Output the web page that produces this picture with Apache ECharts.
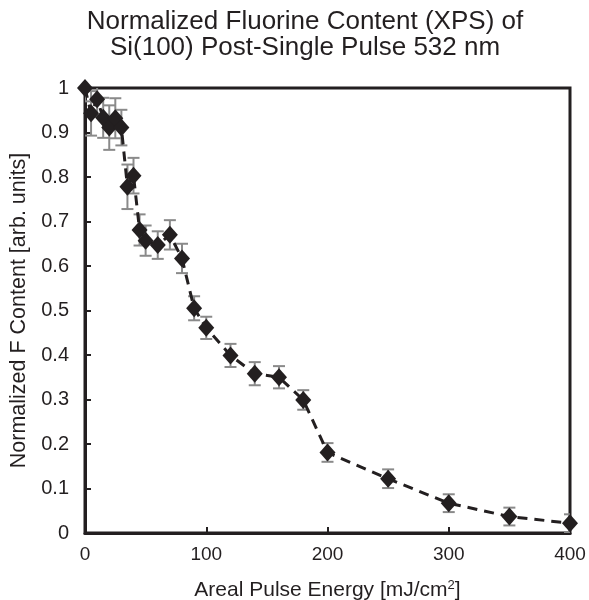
<!DOCTYPE html>
<html>
<head>
<meta charset="utf-8">
<script src="https://cdn.jsdelivr.net/npm/echarts@6/dist/echarts.min.js"></script>
<style>html,body{margin:0;padding:0;background:#fff}#c{width:589px;height:600px}</style>
</head>
<body>
<div id="c"></div>
<script>
var energy = [0,5,10,15,20,25,30,35,40,45,50,60,70,80,90,100,120,140,160,180,200,250,300,350,400];
var fContent = [1.0,0.943,0.975,0.933,0.911,0.932,0.911,0.778,0.803,0.681,0.657,0.647,0.670,0.617,0.505,0.461,0.399,0.358,0.350,0.299,0.181,0.122,0.067,0.037,0.022];
var fError = [0.03,0.05,0.04,0.045,0.05,0.045,0.04,0.05,0.04,0.035,0.034,0.031,0.033,0.033,0.027,0.025,0.026,0.026,0.025,0.022,0.021,0.021,0.02,0.02,0.02];
var xTicks = [0,100,200,300,400];
var yTicks = [0,0.1,0.2,0.3,0.4,0.5,0.6,0.7,0.8,0.9,1];

var pts = energy.map(function(x,i){return [x, fContent[i]];});
var errData = energy.map(function(x,i){return [x, fContent[i]-fError[i], fContent[i]+fError[i]];});
var ink = '#231f20';
var font = 'Liberation Sans, Arial, sans-serif';

var chart = echarts.init(document.getElementById('c'));
chart.setOption({
  animation:false,
  backgroundColor:'#fff',
  title:{
    text:'Normalized Fluorine Content (XPS) of\nSi(100) Post-Single Pulse 532 nm',
    left:300, textAlign:'center', top:4,
    textStyle:{fontFamily:font,fontSize:26,fontWeight:'normal',color:ink,lineHeight:26}
  },
  grid:{left:85,right:19,top:88,bottom:67,show:true,borderColor:ink,borderWidth:3,backgroundColor:'transparent',containLabel:false,outerBoundsMode:'none'},
  xAxis:{
    type:'value',min:0,max:400,interval:100,
    name:'Areal Pulse Energy [mJ/cm{s|2}]',nameLocation:'middle',nameGap:46,
    nameTextStyle:{fontFamily:font,fontSize:21,color:ink,rich:{s:{fontFamily:font,fontSize:13,color:ink,verticalAlign:'top',padding:[0,0,10,0]}}},
    axisLine:{show:true,lineStyle:{color:ink,width:3}},
    axisTick:{show:true,inside:true,length:6,lineStyle:{color:ink,width:2}},
    axisLabel:{fontFamily:font,fontSize:19,color:ink,margin:12,formatter:function(v){return xTicks.indexOf(v)>=0?String(v):'';}},
    splitLine:{show:false}
  },
  yAxis:{
    type:'value',min:0,max:1,interval:0.1,
    name:'Normalized F Content [arb. units]',nameLocation:'middle',nameGap:51,
    nameTextStyle:{fontFamily:font,fontSize:21.5,color:ink},
    axisLine:{show:true,lineStyle:{color:ink,width:3}},
    axisTick:{show:true,inside:true,length:6,lineStyle:{color:ink,width:2}},
    axisLabel:{fontFamily:font,fontSize:20,color:ink,margin:16,formatter:function(v){
      var r=Math.round(v*10)/10; return r===0?'0':(r===1?'1':String(r));}},
    splitLine:{show:false}
  },
  series:[
    {
      type:'custom',
      data:errData,
      clip:true,
      z:2,
      renderItem:function(params,api){
        var x=api.value(0), lo=api.value(1), hi=api.value(2);
        var pLo=api.coord([x,lo]), pHi=api.coord([x,hi]);
        var hw=6;
        var st={stroke:'#8a8a8a',lineWidth:2,fill:null};
        return {type:'group',children:[
          {type:'line',shape:{x1:pLo[0],y1:pLo[1],x2:pHi[0],y2:pHi[1]},style:st},
          {type:'line',shape:{x1:pLo[0]-hw,y1:pLo[1],x2:pLo[0]+hw,y2:pLo[1]},style:st},
          {type:'line',shape:{x1:pHi[0]-hw,y1:pHi[1],x2:pHi[0]+hw,y2:pHi[1]},style:st}
        ]};
      }
    },
    {
      type:'line',data:pts,showSymbol:false,z:3,
      lineStyle:{color:ink,width:3,type:[10,7]}
    },
    {
      type:'scatter',data:pts,symbol:'diamond',symbolSize:[16,18],z:4,clip:false,
      itemStyle:{color:ink,opacity:1}
    }
  ]
});
</script>
</body>
</html>
